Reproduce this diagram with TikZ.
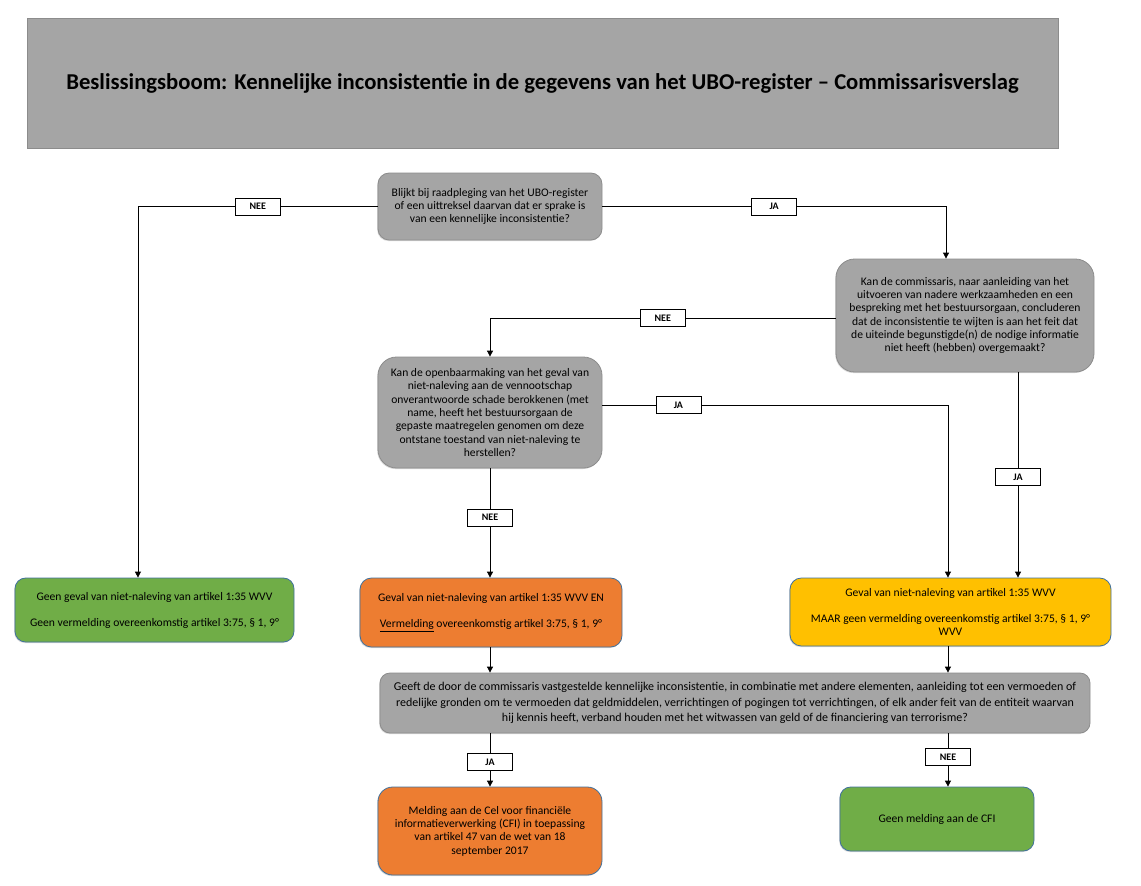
\documentclass[tikz,border=0pt]{standalone}
\usepackage{fontspec}
\setmainfont{Carlito}
\usetikzlibrary{positioning,arrows.meta,shadows}

\definecolor{boxgray}{HTML}{A5A5A5}
\definecolor{boxline}{HTML}{8C8C8C}
\definecolor{officeblue}{HTML}{41719C}
\definecolor{boxgreen}{HTML}{70AD47}
\definecolor{boxorange}{HTML}{ED7D31}
\definecolor{boxyellow}{HTML}{FFC000}

\begin{document}
\begin{tikzpicture}[x=0.75pt, y=-0.75pt,
    every node/.style={font=\fontsize{8.7}{10}\selectfont, align=center, inner sep=2pt},
    question/.style={draw=boxline, fill=boxgray, line width=0.6pt,
        drop shadow={shadow xshift=-0.6pt, shadow yshift=-0.8pt, opacity=0.3}},
    outcome/.style={draw=officeblue, line width=0.6pt,
        drop shadow={shadow xshift=-0.6pt, shadow yshift=-0.8pt, opacity=0.3}},
    answer/.style={draw, fill=white, line width=0.6pt, font=\fontsize{7.5}{8}\selectfont\bfseries,
        minimum width=33.75pt, minimum height=12.75pt, inner sep=0pt},
    flow/.style={line width=0.6pt, -{Triangle[width=4.5pt,length=4.5pt]}}]
    \useasboundingbox (0,0) rectangle (1141,885);

    % titel
    \node[draw=boxline, fill=boxgray, minimum width=773.25pt, minimum height=97.5pt,
        font=\fontsize{17}{20}\selectfont\bfseries] (title) at (542.5,83)
        {Beslissingsboom: Kennelijke inconsistentie in de gegevens van het UBO-register -- Commissarisverslag};

    % vragen
    \node[question, rounded corners=8.4pt, minimum width=168pt, minimum height=50.25pt] (q1) at (490,206.5)
        {Blijkt bij raadpleging van het UBO-register\\of een uittreksel daarvan dat er sprake is\\van een kennelijke inconsistentie?};
    \node[question, rounded corners=14pt, minimum width=193.5pt, minimum height=84.75pt] (q2) at (965,315.5)
        {Kan de commissaris, naar aanleiding van het\\uitvoeren van nadere werkzaamheden en een\\bespreking met het bestuursorgaan, concluderen\\dat de inconsistentie te wijten is aan het feit dat\\de uiteinde begunstigde(n) de nodige informatie\\niet heeft (hebben) overgemaakt?};
    \node[question, rounded corners=13.9pt, minimum width=168pt, minimum height=83.25pt] (q3) at (490,412.5)
        {Kan de openbaarmaking van het geval van\\niet-naleving aan de vennootschap\\onverantwoorde schade berokkenen (met\\name, heeft het bestuursorgaan de\\gepaste maatregelen genomen om deze\\ontstane toestand van niet-naleving te\\herstellen?};
    \node[question, rounded corners=7.5pt, minimum width=532.5pt, minimum height=45pt,
        font=\fontsize{9}{11.6}\selectfont] (q4) at (735,703)
        {Geeft de door de commissaris vastgestelde kennelijke inconsistentie, in combinatie met andere elementen, aanleiding tot een vermoeden of\\redelijke gronden om te vermoeden dat geldmiddelen, verrichtingen of pogingen tot verrichtingen, of elk ander feit van de entiteit waarvan\\hij kennis heeft, verband houden met het witwassen van geld of de financiering van terrorisme?};

    % uitkomsten
    \node[outcome, fill=boxgreen, rounded corners=8pt, minimum width=209.25pt, minimum height=48pt] (g1) at (154.5,610)
        {Geen geval van niet-naleving van artikel 1:35 WVV\\[9.5pt]Geen vermelding overeenkomstig artikel 3:75, § 1, 9°};
    \node[outcome, fill=boxorange, rounded corners=8.6pt, minimum width=196.5pt, minimum height=51.75pt] (o1) at (491,612.5)
        {Geval van niet-naleving van artikel 1:35 WVV EN\\[9.5pt]\underline{Vermelding} overeenkomstig artikel 3:75, § 1, 9°};
    \node[outcome, fill=boxyellow, rounded corners=8.5pt, minimum width=240.75pt, minimum height=51pt] (y1) at (950.5,612)
        {Geval van niet-naleving van artikel 1:35 WVV\\[9.5pt]MAAR geen vermelding overeenkomstig artikel 3:75, § 1, 9°\\WVV};
    \node[outcome, fill=boxorange, rounded corners=11pt, minimum width=168pt, minimum height=66pt] (o2) at (490,831)
        {Melding aan de Cel voor financiële\\informatieverwerking (CFI) in toepassing\\van artikel 47 van de wet van 18\\september 2017};
    \node[outcome, fill=boxgreen, rounded corners=8pt, minimum width=145.5pt, minimum height=48pt] (g2) at (937,819)
        {Geen melding aan de CFI};

    \coordinate (q2b) at ([xshift=39.75pt]q2.south);
    \coordinate (col) at ([xshift=-1.9pt]y1.north);

    % pijlen
    \draw[flow] (q1.west) -| node[answer, pos=0.25] {NEE} ([xshift=-12.4pt]g1.north);
    \draw[flow] (q1.east) -| node[answer, pos=0.25] {JA} ([xshift=-14.25pt]q2.north);
    \draw[flow] ([yshift=-2pt]q2.west) -| node[answer, pos=0.25] {NEE} (q3.north);
    \draw[flow] (q2b) -- node[answer, pos=0.51] {JA} (q2b |- y1.north);
    \draw[flow] ([yshift=5.6pt]q3.east) -| node[answer, pos=0.11] {JA} (col);
    \draw[flow] (q3.south) -- node[answer, pos=0.45] {NEE} (q3.south |- o1.north);
    \draw[flow] (o1.south -| q3.south) -- (q3.south |- q4.north);
    \draw[flow] (col |- y1.south) -- (col |- q4.north);
    \draw[flow] (o2.north |- q4.south) -- node[answer, pos=0.54] {JA} (o2.north);
    \draw[flow] (col |- q4.south) -- node[answer, pos=0.44] {NEE} (col |- g2.north);
\end{tikzpicture}
\end{document}
